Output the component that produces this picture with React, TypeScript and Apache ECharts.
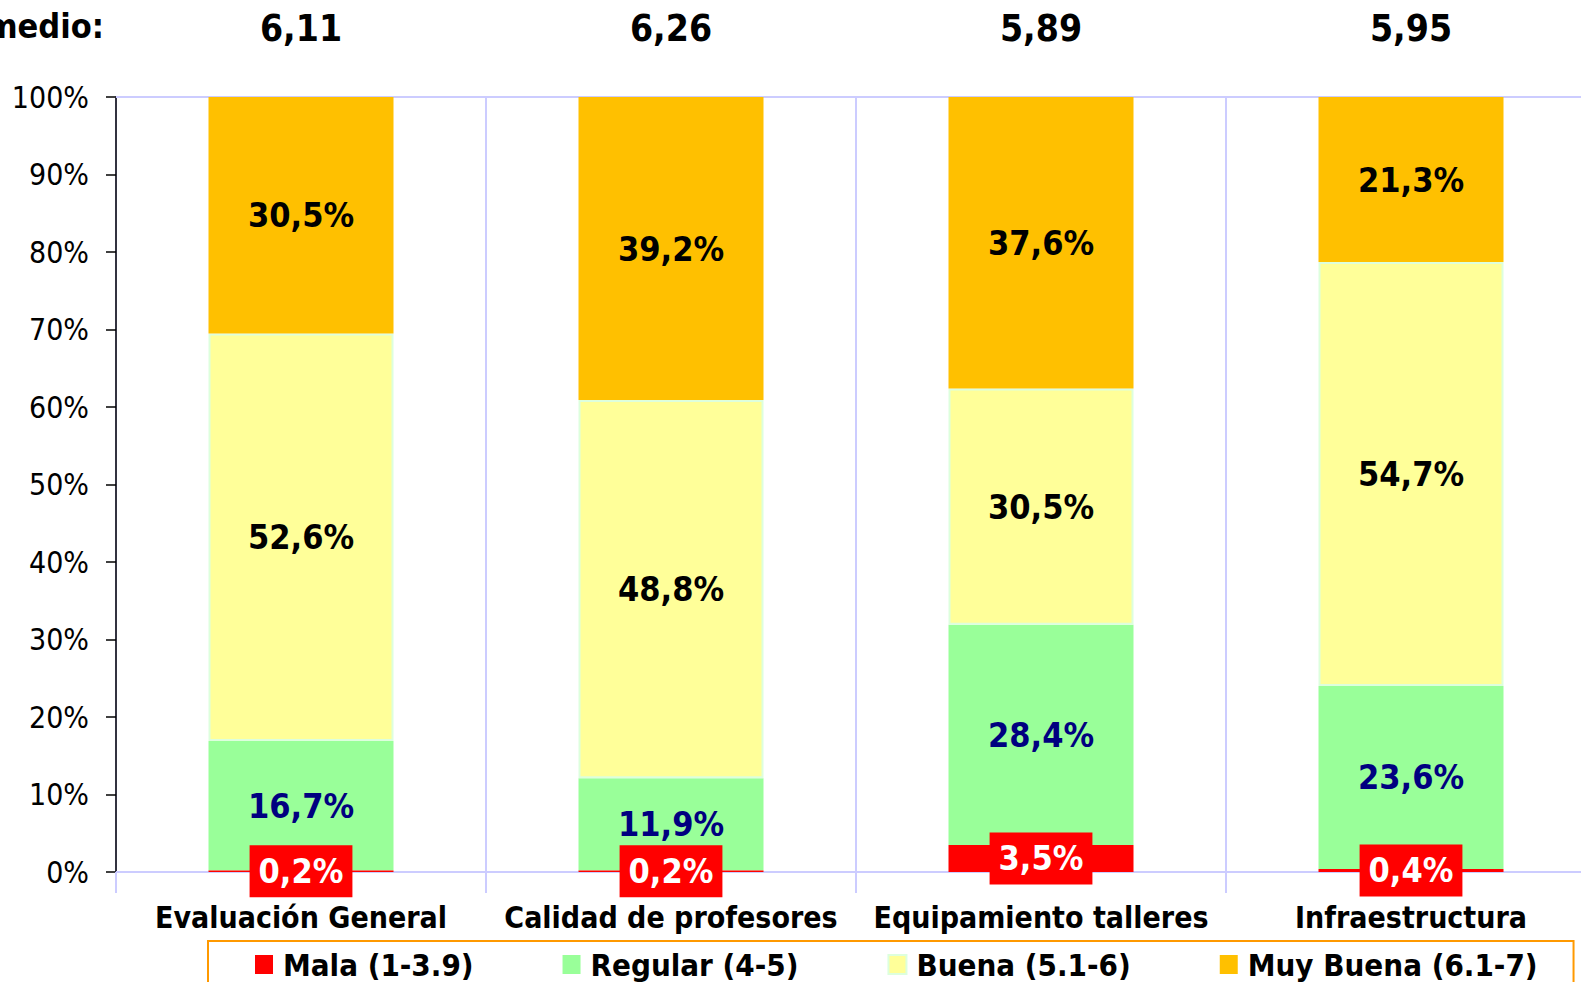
import React, { useEffect, useRef } from "react";
import * as echarts from "echarts";

const categories = ["Evaluación General", "Calidad de profesores", "Equipamiento talleres", "Infraestructura"];
const promedios = ["6,11", "6,26", "5,89", "5,95"];
const mala = [0.2, 0.2, 3.5, 0.4];
const regular = [16.7, 11.9, 28.4, 23.6];
const buena = [52.6, 48.8, 30.5, 54.7];
const muyBuena = [30.5, 39.2, 37.6, 21.3];
const seriesNames = ["Mala (1-3.9)", "Regular (4-5)", "Buena (5.1-6)", "Muy Buena (6.1-7)"];

const FONT = "'DejaVu Sans Condensed', 'DejaVu Sans', sans-serif";
const LAV = "#ccccff";

const fmt = (p: any) => p.value.toFixed(1).replace(".", ",") + "%";

export default function App() {
  const ref = useRef<HTMLDivElement>(null);
  useEffect(() => {
    if (!ref.current) return;
    const chart = echarts.init(ref.current, null, { renderer: "svg" });
    const labelBase = {
      show: true,
      position: "inside",
      fontFamily: FONT,
      fontWeight: "bold",
      fontSize: 34,
      formatter: fmt,
    };
    chart.setOption({
      animation: false,
      backgroundColor: "#ffffff",
      grid: { left: 116, top: 97, width: 1480, height: 775, containLabel: false },
      graphic: [
        {
          type: "text",
          right: 1640 - 104,
          top: 9,
          style: {
            text: "Promedio:",
            fontFamily: FONT,
            fontWeight: "bold",
            fontSize: 34,
            fill: "#000",
            textAlign: "right",
          },
        },
      ],
      legend: {
        left: 208,
        top: 941,
        padding: [8, 36, 40, 47],
        itemGap: 89,
        itemWidth: 18,
        itemHeight: 19,
        borderColor: "#ff9900",
        borderWidth: 2,
        icon: "rect",
        textStyle: { fontFamily: FONT, fontWeight: "bold", fontSize: 31, color: "#000", padding: [0, 0, 0, 5] },
        data: seriesNames,
      },
      xAxis: [
        {
          type: "category",
          data: categories,
          position: "bottom",
          axisLine: { lineStyle: { color: LAV, width: 2 } },
          axisTick: { show: true, interval: 0, length: 21, lineStyle: { color: LAV, width: 2 } },
          splitLine: { show: true, interval: 0, lineStyle: { color: LAV, width: 2 } },
          axisLabel: {
            interval: 0,
            fontFamily: FONT,
            fontWeight: "bold",
            fontSize: 30,
            color: "#000",
            margin: 30,
          },
        },
        {
          type: "category",
          data: promedios,
          position: "top",
          axisLine: { lineStyle: { color: LAV, width: 2 } },
          axisTick: { show: false },
          splitLine: { show: false },
          axisLabel: {
            interval: 0,
            fontFamily: FONT,
            fontWeight: "bold",
            fontSize: 37,
            color: "#000",
            margin: 50,
          },
        },
      ],
      yAxis: {
        type: "value",
        min: 0,
        max: 100,
        interval: 10,
        axisLine: { show: true, lineStyle: { color: "#000", width: 1.5 } },
        axisTick: { show: true, length: 10, lineStyle: { color: "#000", width: 1.5 } },
        splitLine: { show: false },
        axisLabel: {
          formatter: "{value}%",
          fontFamily: FONT,
          fontSize: 30,
          color: "#000",
          margin: 27,
        },
      },
      series: [
        {
          name: seriesNames[0],
          type: "bar",
          stack: "t",
          barWidth: "50%",
          data: mala,
          itemStyle: { color: "#ff0000" },
          label: { ...labelBase, color: "#fff", backgroundColor: "#ff0000", padding: [10, 9, 8, 9] },
          z: 5,
        },
        {
          name: seriesNames[1],
          type: "bar",
          stack: "t",
          data: regular,
          itemStyle: { color: "#99ff99" },
          label: { ...labelBase, color: "#000080" },
        },
        {
          name: seriesNames[2],
          type: "bar",
          stack: "t",
          data: buena,
          itemStyle: { color: "#ffff99", borderColor: "#ddffdd", borderWidth: 2 },
          label: { ...labelBase, color: "#000" },
        },
        {
          name: seriesNames[3],
          type: "bar",
          stack: "t",
          data: muyBuena,
          itemStyle: { color: "#ffc000" },
          label: { ...labelBase, color: "#000" },
        },
      ],
    });
    return () => chart.dispose();
  }, []);
  return (
    <div style={{ position: "fixed", left: 0, top: 0, width: 1581, height: 982, overflow: "hidden" }}>
      <div ref={ref} style={{ position: "absolute", left: 0, top: 0, width: 1640, height: 982 }} />
    </div>
  );
}
